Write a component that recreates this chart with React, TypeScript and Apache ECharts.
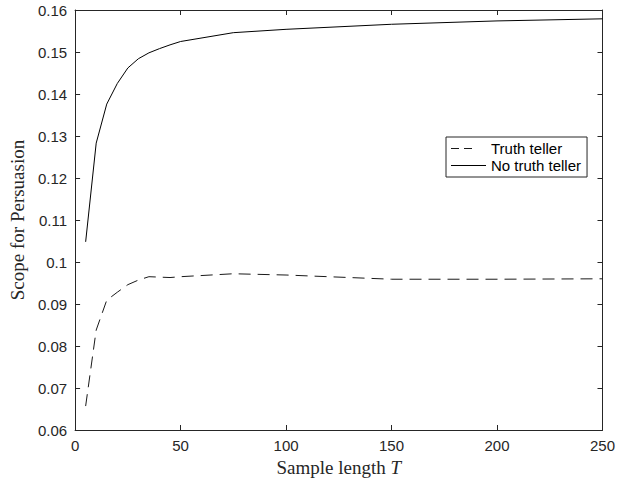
import React, { useEffect, useRef } from "react";
import * as echarts from "echarts";

const sampleLengths = [5, 10, 15, 20, 25, 30, 35, 40, 45, 50, 75, 100, 150, 200, 250];
const truthTeller = [0.0657, 0.0838, 0.0909, 0.0928, 0.0946, 0.0957, 0.0965, 0.0964, 0.0963, 0.0965, 0.0972, 0.0969, 0.0959, 0.0959, 0.096];
const noTruthTeller = [0.1048, 0.1283, 0.1376, 0.1425, 0.1462, 0.1484, 0.1498, 0.1508, 0.1517, 0.1525, 0.1546, 0.1554, 0.1566, 0.1574, 0.1579];
const seriesNames = ["Truth teller", "No truth teller"];

const AX = "#262626";
const SANS = "Liberation Sans, Arial, sans-serif";
const SERIF = "Liberation Serif, Times New Roman, serif";

export default function App() {
  const ref = useRef<HTMLDivElement>(null);
  useEffect(() => {
    if (!ref.current) return;
    const chart = echarts.init(ref.current, undefined, { renderer: "svg" });
    const axisCommon = {
      axisLine: { show: true, onZero: false, lineStyle: { color: AX, width: 1 } },
      axisTick: { show: true, inside: true, length: 5, lineStyle: { color: AX } },
      splitLine: { show: false },
    };
    const fmtY = (v: number) => parseFloat(v.toFixed(2)).toString();
    chart.setOption({
      animation: false,
      backgroundColor: "#fff",
      grid: { left: 72, top: 10, right: 12, bottom: 52 },
      legend: {
        orient: "vertical",
        left: 446,
        top: 137,
        data: [
          { name: seriesNames[0], icon: "path://M0,0H8V1H0Z M13,0H21V1H13Z M35,0L35,1Z" },
          { name: seriesNames[1], icon: "path://M0,0H35V1H0Z" },
        ],
        backgroundColor: "#fff",
        borderColor: AX,
        borderWidth: 1,
        borderRadius: 0,
        padding: [4, 6, 4, 5],
        itemGap: 2,
        itemWidth: 35,
        itemHeight: 1,
        itemStyle: { borderWidth: 0 },
        textStyle: { fontFamily: SANS, fontSize: 15, color: "#000" },
      },
      xAxis: [
        {
          type: "value",
          min: 0,
          max: 250,
          interval: 50,
          position: "bottom",
          ...axisCommon,
          axisLabel: { color: AX, fontFamily: SANS, fontSize: 15, margin: 8 },
          name: "{a|Sample length }{b|T}",
          nameLocation: "middle",
          nameGap: 27,
          nameTextStyle: {
            rich: {
              a: { fontFamily: SERIF, fontSize: 19, color: AX },
              b: { fontFamily: SERIF, fontSize: 19, fontStyle: "italic", color: AX },
            },
          },
        },
        {
          type: "value",
          min: 0,
          max: 250,
          interval: 50,
          position: "top",
          ...axisCommon,
          axisLabel: { show: false },
        },
      ],
      yAxis: [
        {
          type: "value",
          min: 0.06,
          max: 0.16,
          interval: 0.01,
          position: "left",
          ...axisCommon,
          axisLabel: { color: AX, fontFamily: SANS, fontSize: 15, margin: 8, formatter: fmtY },
          name: "Scope for Persuasion",
          nameLocation: "middle",
          nameGap: 40,
          nameTextStyle: { fontFamily: SERIF, fontSize: 19, color: AX },
        },
        {
          type: "value",
          min: 0.06,
          max: 0.16,
          interval: 0.01,
          position: "right",
          ...axisCommon,
          axisLabel: { show: false },
        },
      ],
      series: [
        {
          name: seriesNames[0],
          type: "line",
          data: sampleLengths.map((t, i) => [t, truthTeller[i]]),
          symbol: "none",
          lineStyle: { color: "#1a1a1a", width: 1, type: [12, 7] },
          itemStyle: { color: "#1a1a1a" },
        },
        {
          name: seriesNames[1],
          type: "line",
          data: sampleLengths.map((t, i) => [t, noTruthTeller[i]]),
          symbol: "none",
          lineStyle: { color: "#000", width: 1 },
          itemStyle: { color: "#000" },
        },
      ],
    });
    return () => chart.dispose();
  }, []);
  return <div ref={ref} style={{ position: "absolute", left: 0, top: 0, width: 618, height: 482 }} />;
}
